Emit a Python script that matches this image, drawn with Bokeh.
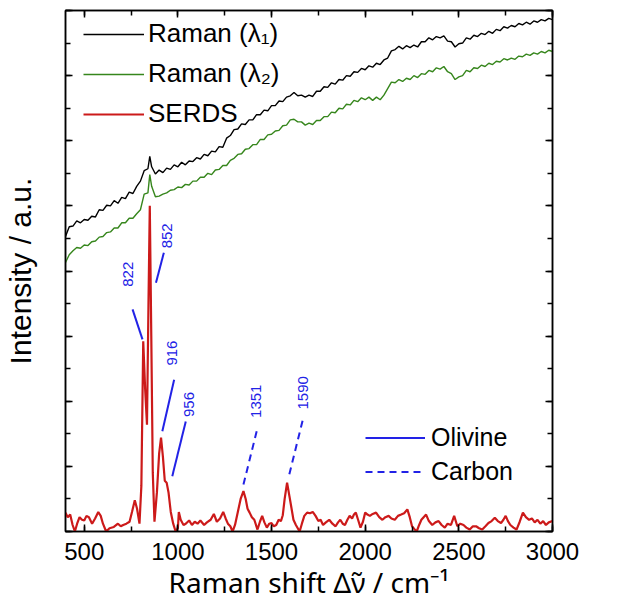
import numpy as np
from bokeh.plotting import figure
from bokeh.models import Range1d, LinearAxis, SingleIntervalTicker, Legend, LegendItem, ColumnDataSource
from bokeh.embed import file_html
from bokeh.resources import INLINE
from bokeh.core.properties import value

# ---------------- data ----------------
raman_x = list(range(400, 841, 20)) + [850] + list(range(860, 3001, 20))

raman1 = [4.53, 4.68, 4.69, 4.77, 4.74, 4.79, 4.78, 4.84, 4.83, 4.94, 4.93, 5.01, 5.00, 5.08, 5.04, 5.13,
          5.11, 5.21, 5.19, 5.30, 5.38, 5.54, 5.57,
          5.76,
          5.60, 5.49, 5.55, 5.51, 5.58, 5.56, 5.63, 5.60, 5.67, 5.63, 5.69, 5.68, 5.74, 5.72, 5.79, 5.77,
          5.84, 5.83, 5.91, 5.90, 6.04, 6.08, 6.17, 6.18, 6.26, 6.25, 6.32, 6.32, 6.40, 6.40, 6.47, 6.46,
          6.54, 6.54, 6.61, 6.60, 6.67, 6.69, 6.74, 6.69, 6.70, 6.67, 6.70, 6.68, 6.76, 6.76, 6.83, 6.82,
          6.89, 6.87, 6.94, 6.93, 7.00, 6.99, 7.06, 7.05, 7.11, 7.09, 7.15, 7.13, 7.19, 7.17, 7.24, 7.27,
          7.38, 7.40, 7.45, 7.41, 7.46, 7.43, 7.47, 7.44, 7.52, 7.52, 7.58, 7.55, 7.60, 7.58, 7.61, 7.53,
          7.52, 7.44, 7.49, 7.50, 7.58, 7.56, 7.62, 7.60, 7.65, 7.63, 7.68, 7.65, 7.71, 7.69, 7.75, 7.73,
          7.77, 7.75, 7.80, 7.78, 7.82, 7.79, 7.84, 7.82, 7.86, 7.84, 7.88, 7.86]

raman2 = [4.13, 4.25, 4.31, 4.36, 4.35, 4.40, 4.39, 4.45, 4.46, 4.52, 4.53, 4.59, 4.60, 4.66, 4.66, 4.74,
          4.74, 4.81, 4.81, 4.88, 4.94, 5.18, 5.20,
          5.48,
          5.30, 5.14, 5.15, 5.18, 5.20, 5.24, 5.25, 5.29, 5.28, 5.33, 5.32, 5.38, 5.38, 5.44, 5.44, 5.50,
          5.48, 5.55, 5.56, 5.62, 5.62, 5.70, 5.73, 5.79, 5.80, 5.87, 5.88, 5.94, 5.94, 6.02, 6.02, 6.09,
          6.10, 6.15, 6.16, 6.23, 6.24, 6.32, 6.33, 6.29, 6.29, 6.24, 6.27, 6.25, 6.31, 6.31, 6.37, 6.37,
          6.44, 6.43, 6.50, 6.49, 6.56, 6.55, 6.62, 6.60, 6.66, 6.63, 6.67, 6.62, 6.67, 6.63, 6.70, 6.80,
          6.90, 6.89, 6.94, 6.91, 6.96, 6.94, 7.00, 6.97, 7.03, 7.02, 7.08, 7.06, 7.12, 7.10, 7.14, 7.06,
          7.03, 6.94, 6.98, 7.00, 7.08, 7.06, 7.12, 7.11, 7.16, 7.14, 7.19, 7.17, 7.22, 7.21, 7.26, 7.24,
          7.27, 7.25, 7.30, 7.29, 7.33, 7.31, 7.35, 7.33, 7.37, 7.35, 7.39, 7.37]

serds_x = [400, 412, 425, 438, 450, 462, 475, 488, 500, 512, 525, 542, 558, 575, 588, 600, 617, 635, 658,
           680, 695, 708, 725, 742, 755, 770, 782, 795, 805, 815, 825, 835, 843, 850, 858, 866, 875, 888,
           900, 910, 920, 930, 940, 950, 962, 975, 988, 1000, 1005, 1015, 1030, 1042, 1060, 1075, 1090,
           1105, 1120, 1140, 1155, 1175, 1192, 1208, 1225, 1242, 1255, 1267, 1280, 1292, 1305, 1320, 1335,
           1350, 1362, 1372, 1383, 1395, 1408, 1425, 1438, 1450, 1462, 1475, 1488, 1500, 1512, 1525, 1538,
           1550, 1560, 1570, 1583, 1595, 1607, 1617, 1630, 1650, 1662, 1675, 1690, 1705, 1720, 1735, 1750,
           1762, 1775, 1790, 1808, 1825, 1842, 1855, 1867, 1880, 1892, 1905, 1917, 1930, 1940, 1950, 1962,
           1975, 1988, 2000, 2012, 2025, 2040, 2058, 2075, 2092, 2108, 2125, 2140, 2158, 2175, 2192, 2208,
           2225, 2238, 2250, 2262, 2275, 2288, 2300, 2312, 2325, 2340, 2358, 2375, 2392, 2408, 2425, 2440,
           2458, 2475, 2492, 2508, 2525, 2540, 2558, 2575, 2592, 2608, 2625, 2642, 2658, 2675, 2692, 2708,
           2725, 2738, 2750, 2762, 2775, 2792, 2808, 2825, 2842, 2858, 2875, 2890, 2905, 2920, 2935, 2950,
           2965, 2980, 3000]
serds_y = [0.29, 0.22, 0.26, 0.10, 0.00, 0.12, 0.22, 0.18, 0.17, 0.24, 0.22, 0.12, 0.20, 0.30, 0.24, 0.12,
           0.00, 0.05, 0.07, 0.12, 0.08, 0.10, 0.12, 0.15, 0.30, 0.48, 0.35, 0.12, 0.70, 2.92, 2.20, 1.64,
           3.50, 5.00, 3.00, 0.90, 0.15, 0.60, 1.20, 1.44, 1.15, 0.78, 0.75, 0.60, 0.30, 0.12, 0.00, 0.05,
           0.30, 0.18, 0.10, 0.12, 0.17, 0.10, 0.15, 0.12, 0.17, 0.10, 0.14, 0.18, 0.27, 0.15, 0.20, 0.30,
           0.20, 0.12, 0.08, 0.00, 0.10, 0.30, 0.50, 0.62, 0.50, 0.35, 0.29, 0.22, 0.18, 0.03, 0.15, 0.24,
           0.14, 0.06, 0.12, 0.13, 0.08, 0.10, 0.18, 0.16, 0.25, 0.50, 0.75, 0.55, 0.35, 0.18, 0.10, 0.00,
           0.12, 0.24, 0.29, 0.28, 0.30, 0.24, 0.16, 0.18, 0.10, 0.14, 0.18, 0.12, 0.08, 0.14, 0.18, 0.12,
           0.10, 0.18, 0.24, 0.20, 0.26, 0.29, 0.18, 0.06, 0.15, 0.29, 0.26, 0.24, 0.27, 0.29, 0.22, 0.18,
           0.22, 0.24, 0.20, 0.18, 0.24, 0.26, 0.28, 0.34, 0.22, 0.08, 0.04, 0.00, 0.10, 0.18, 0.22, 0.26,
           0.16, 0.10, 0.14, 0.16, 0.10, 0.06, 0.12, 0.10, 0.24, 0.08, 0.12, 0.10, 0.06, 0.03, 0.08, 0.08,
           0.05, 0.03, 0.08, 0.13, 0.16, 0.21, 0.16, 0.13, 0.18, 0.24, 0.16, 0.10, 0.06, 0.03, 0.15, 0.29,
           0.22, 0.18, 0.20, 0.14, 0.18, 0.12, 0.16, 0.10, 0.14, 0.16]

peak_labels = ["822", "852", "916", "956", "1351", "1590"]
peak_group = ["Olivine", "Olivine", "Olivine", "Olivine", "Carbon", "Carbon"]

# annotation layout (leader line ends and label centres, in data units)
lead_x0 = [811, 883, 917, 970, 1350, 1595]
lead_y0 = [2.95, 3.82, 1.54, 0.85, 0.72, 0.88]
lead_x1 = [758, 925, 980, 1042, 1425, 1670]
lead_y1 = [3.41, 4.28, 2.33, 1.69, 1.59, 1.75]
lab_x = [733, 942, 967, 1058, 1417, 1667]
lab_y = [3.95, 4.54, 2.74, 1.95, 2.00, 2.13]

FONT = "Liberation Sans"
BLACK = "#000000"
GREEN = "#36861c"
RED = "#cc1a1a"
BLUE = "#2222e6"

p = figure(frame_width=487, frame_height=521, output_backend="svg", toolbar_location=None,
           x_range=Range1d(400, 3000), y_range=Range1d(0, 8),
           min_border_left=64, min_border_top=10, min_border_right=50, min_border_bottom=70)
p.background_fill_color = "white"
p.border_fill_color = "white"
p.outline_line_color = BLACK
p.outline_line_width = 1.5
p.xgrid.visible = False
p.ygrid.visible = False

r1 = p.line(raman_x, raman1, line_color=BLACK, line_width=1.4)
r2 = p.line(raman_x, raman2, line_color=GREEN, line_width=1.4)
r3 = p.line(serds_x, serds_y, line_color=RED, line_width=2.2)

oli = [i for i, g in enumerate(peak_group) if g == "Olivine"]
car = [i for i, g in enumerate(peak_group) if g == "Carbon"]
so = ColumnDataSource(dict(x0=[lead_x0[i] for i in oli], y0=[lead_y0[i] for i in oli],
                           x1=[lead_x1[i] for i in oli], y1=[lead_y1[i] for i in oli]))
sc = ColumnDataSource(dict(x0=[lead_x0[i] for i in car], y0=[lead_y0[i] for i in car],
                           x1=[lead_x1[i] for i in car], y1=[lead_y1[i] for i in car]))
ro = p.segment("x0", "y0", "x1", "y1", source=so, line_color=BLUE, line_width=2)
rc = p.segment("x0", "y0", "x1", "y1", source=sc, line_color=BLUE, line_width=2, line_dash="7 5")

p.text(x=lab_x, y=lab_y, text=peak_labels, angle=np.pi / 2, text_align="center", text_baseline="middle",
       text_color=BLUE, text_font=value(FONT), text_font_size="15px")

# axes
xb = p.below[0]
yl = p.left[0]
xb.ticker = SingleIntervalTicker(interval=500, num_minor_ticks=2)
xb.axis_label = "Raman shift \u0394\u03bd\u0303 / cm\u207b\u00b9"
xb.axis_label_text_font = "Noto Sans"
xb.axis_label_text_font_size = "28px"
xb.major_label_text_font_size = "24px"
xb.major_label_standoff = 11
xb.axis_label_standoff = 0

yl.ticker = SingleIntervalTicker(interval=1, num_minor_ticks=2)
yl.axis_label = "Intensity / a.u."
yl.axis_label_text_font = FONT
yl.axis_label_text_font_size = "30px"
yl.axis_label_standoff = 29

top = LinearAxis(ticker=SingleIntervalTicker(interval=500, num_minor_ticks=2))
right = LinearAxis(ticker=SingleIntervalTicker(interval=1, num_minor_ticks=2))
p.add_layout(top, "above")
p.add_layout(right, "right")

for ax in (yl, top, right):
    ax.major_label_text_font_size = "1px"
    ax.major_label_text_color = None
    ax.major_label_standoff = 0

xb.major_label_text_font = FONT
xb.major_label_text_color = BLACK

for ax in (xb, yl, top, right):
    ax.axis_line_color = BLACK
    ax.axis_line_width = 1.5
    ax.major_tick_in = 7
    ax.major_tick_out = 0
    ax.minor_tick_in = 5
    ax.minor_tick_out = 0
    ax.major_tick_line_color = BLACK
    ax.minor_tick_line_color = BLACK
    ax.major_tick_line_width = 1.5
    ax.minor_tick_line_width = 1.5
    ax.axis_label_text_font_style = "normal"
    ax.axis_label_text_color = BLACK

leg1 = Legend(items=[LegendItem(label="Raman (\u03bb\u2081)", renderers=[r1]),
                     LegendItem(label="Raman (\u03bb\u2082)", renderers=[r2]),
                     LegendItem(label="SERDS", renderers=[r3])],
              location=(18, 402), glyph_width=61, glyph_height=30, label_height=30, spacing=9,
              label_standoff=4, padding=0, margin=0, border_line_color=None, background_fill_alpha=0,
              label_text_font=FONT, label_text_font_size="26px", label_text_color=BLACK)
leg2 = Legend(items=[LegendItem(label="Olivine", renderers=[ro]),
                     LegendItem(label="Carbon", renderers=[rc])],
              location=(300, 45), glyph_width=60, glyph_height=29, label_height=29, spacing=5,
              label_standoff=6, padding=0, margin=0, border_line_color=None, background_fill_alpha=0,
              label_text_font=FONT, label_text_font_size="25px", label_text_color=BLACK)
p.add_layout(leg1, "center")
p.add_layout(leg2, "center")

open("out.html", "w").write(file_html(p, INLINE))
